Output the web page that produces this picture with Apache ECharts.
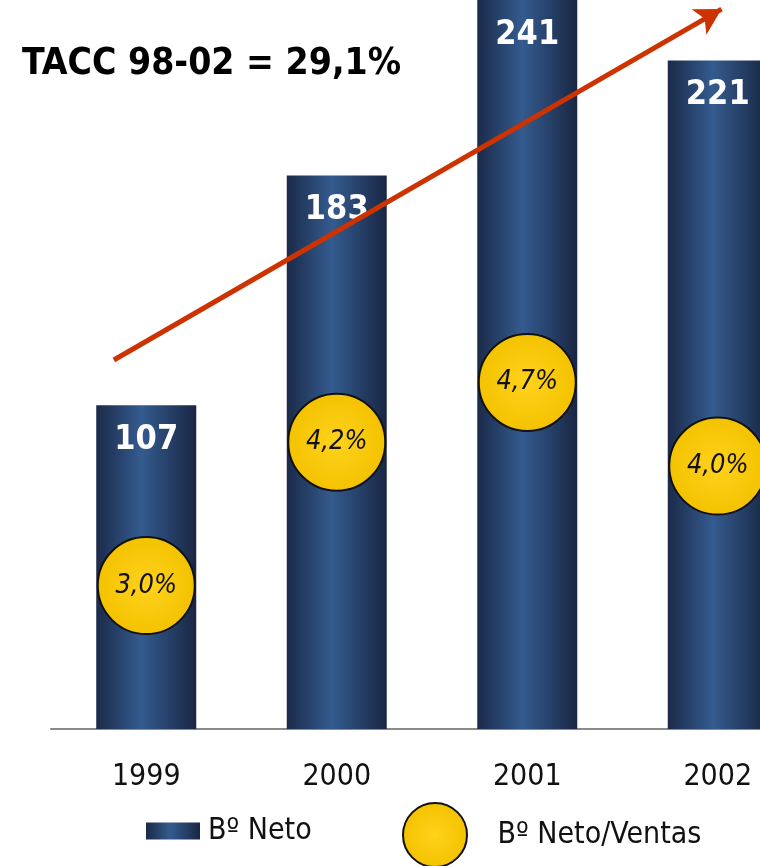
<!DOCTYPE html>
<html>
<head>
<meta charset="utf-8">
<script src="https://cdn.jsdelivr.net/npm/echarts@6/dist/echarts.min.js"></script>
<style>
html, body { margin: 0; padding: 0; background: #fff; }
#chart { width: 760px; height: 866px; }
</style>
</head>
<body>
<div id="chart"></div>
<script>
// datos
const years = ['1999', '2000', '2001', '2002'];
const beneficioNeto = [107, 183, 241, 221];
const netoVentas = [3.0, 4.2, 4.7, 4.0];
// flecha de tendencia (x en indice de categoria, y en valor de B Neto)
const trendStart = [-0.17, 122];
const trendEnd = [3.02, 238];
const titleText = 'TACC 98-02 = 29,1%';

const FONT = "'Liberation Sans Narrow', 'DejaVu Sans Condensed', 'Liberation Sans', sans-serif";

let myChart = echarts.init(document.getElementById('chart'));

const barColor = new echarts.graphic.LinearGradient(0, 0, 1, 0, [
  { offset: 0, color: '#1b2a49' },
  { offset: 0.45, color: '#345b8f' },
  { offset: 1, color: '#192643' }
]);
const dotColor = new echarts.graphic.RadialGradient(0.5, 0.5, 0.5, [
  { offset: 0, color: '#ffd21c' },
  { offset: 1, color: '#f3c200' }
]);

let option = {
  animation: false,
  title: {
    text: titleText,
    left: 17,
    top: 41,
    textStyle: {
      fontFamily: FONT,
      fontWeight: 'bold',
      fontSize: 37,
      color: '#000'
    }
  },
  legend: [
    {
      data: ['Bº Neto'],
      left: 141,
      top: 811,
      icon: 'rect',
      itemWidth: 54,
      itemHeight: 17,
      textStyle: { fontFamily: FONT, fontSize: 30, color: '#111', padding: [0, 0, 0, 3] }
    },
    {
      data: ['Bº Neto/Ventas'],
      left: 397,
      top: 797,
      icon: 'circle',
      itemWidth: 65,
      itemHeight: 64,
      textStyle: { fontFamily: FONT, fontSize: 30, color: '#111', padding: [0, 0, 0, 25] }
    }
  ],
  grid: {
    left: 51,
    width: 762,
    top: 0,
    bottom: 137,
    outerBoundsMode: 'none'
  },
  xAxis: [
    {
      type: 'category',
      data: years,
      axisTick: { show: false },
      axisLine: { lineStyle: { color: '#8a8a8a', width: 2 } },
      axisLabel: {
        margin: 33,
        fontFamily: FONT,
        fontSize: 30,
        color: '#111'
      }
    },
    {
      type: 'value',
      min: -0.5,
      max: 3.5,
      show: false
    }
  ],
  yAxis: [
    { type: 'value', min: 0, max: 241, show: false },
    { type: 'value', min: 1.8, max: 7.9, show: false }
  ],
  series: [
    {
      name: 'Bº Neto',
      type: 'bar',
      barWidth: 100,
      data: beneficioNeto,
      itemStyle: { color: barColor },
      label: {
        show: true,
        position: 'insideTop',
        distance: 18,
        fontFamily: FONT,
        fontWeight: 'bold',
        fontSize: 34,
        color: '#fff'
      }
    },
    {
      name: 'Bº Neto/Ventas',
      type: 'scatter',
      yAxisIndex: 1,
      symbol: 'circle',
      symbolSize: 97,
      z: 5,
      data: netoVentas,
      itemStyle: { color: dotColor, borderColor: '#111', borderWidth: 2, opacity: 1 },
      label: {
        show: true,
        position: 'inside',
        formatter: p => p.value.toFixed(1).replace('.', ',') + '%',
        fontFamily: FONT,
        fontStyle: 'italic',
        fontSize: 27,
        color: '#111'
      }
    },
    {
      name: 'tendencia',
      type: 'line',
      xAxisIndex: 1,
      yAxisIndex: 0,
      data: [],
      z: 6,
      markLine: {
        silent: true,
        symbol: ['none', 'arrow'],
        symbolSize: [22, 26],
        label: { show: false },
        lineStyle: { color: '#cc3300', width: 5, type: 'solid' },
        data: [[{ coord: trendStart }, { coord: trendEnd }]]
      }
    }
  ]
};

option && myChart.setOption(option);
</script>
</body>
</html>
